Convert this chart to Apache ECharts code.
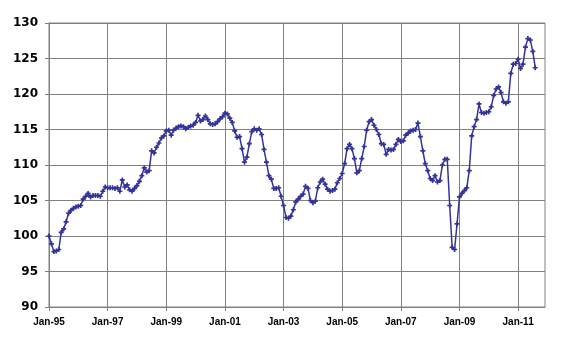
<!DOCTYPE html>
<html>
<head>
<meta charset="utf-8">
<script src="https://cdn.jsdelivr.net/npm/echarts@6/dist/echarts.min.js"></script>
<style>
html,body{margin:0;padding:0;background:#fff;}
#c{width:576px;height:343px;}
</style>
</head>
<body>
<div id="c"></div>
<script>
// Month names and year span of the category axis (Jan-95 .. Dec-11)
var monthNames = ['Jan','Feb','Mar','Apr','May','Jun','Jul','Aug','Sep','Oct','Nov','Dec'];
var startYear = 1995, endYear = 2011;

// Monthly index values, Jan-95 .. Aug-11
var values1995 = [100.0, 98.9, 97.8, 97.9, 98.1, 100.5, 101.0, 102.0, 103.2, 103.6, 103.9, 104.1];
var values1996 = [104.2, 104.3, 105.2, 105.6, 106.0, 105.5, 105.7, 105.7, 105.7, 105.6, 106.3, 106.9];
var values1997 = [106.8, 106.8, 106.8, 106.7, 106.8, 106.3, 107.9, 106.9, 107.2, 106.5, 106.3, 106.7];
var values1998 = [107.1, 107.7, 108.5, 109.6, 109.0, 109.2, 112.0, 111.7, 112.5, 113.1, 113.8, 114.1];
var values1999 = [114.8, 114.9, 114.2, 114.9, 115.2, 115.4, 115.5, 115.4, 115.1, 115.3, 115.5, 115.6];
var values2000 = [116.0, 117.0, 116.2, 116.4, 116.9, 116.4, 115.8, 115.7, 115.8, 116.1, 116.5, 116.8];
var values2001 = [117.3, 117.2, 116.6, 116.0, 114.8, 113.9, 114.0, 112.3, 110.4, 111.1, 113.0, 114.7];
var values2002 = [115.1, 114.9, 115.1, 114.3, 112.2, 110.4, 108.5, 108.0, 106.7, 106.7, 106.8, 105.6];
var values2003 = [104.3, 102.6, 102.5, 102.8, 103.7, 104.8, 105.2, 105.6, 105.9, 107.0, 106.7, 105.0];
var values2004 = [104.7, 104.9, 106.8, 107.6, 108.0, 107.3, 106.6, 106.3, 106.4, 106.6, 107.5, 108.1];
var values2005 = [108.8, 110.2, 112.3, 112.9, 112.3, 110.9, 108.9, 109.2, 110.9, 112.6, 114.9, 116.1];
var values2006 = [116.4, 115.6, 115.0, 114.3, 113.0, 112.9, 111.5, 112.2, 112.1, 112.2, 112.9, 113.6];
var values2007 = [113.3, 113.4, 114.2, 114.5, 114.8, 114.9, 115.0, 115.9, 114.0, 112.0, 110.2, 109.2];
var values2008 = [108.1, 107.8, 108.5, 107.6, 107.8, 110.0, 110.8, 110.8, 104.3, 98.4, 98.1, 101.7];
var values2009 = [105.5, 106.0, 106.4, 106.8, 109.2, 114.1, 115.4, 116.4, 118.6, 117.4, 117.3, 117.4];
var values2010 = [117.5, 118.2, 119.8, 120.7, 121.0, 120.2, 118.9, 118.7, 118.9, 122.9, 124.2, 124.3];
var values2011 = [124.9, 123.6, 124.2, 126.6, 127.8, 127.6, 126.0, 123.7];

var yTicks = {min: 90, max: 130, interval: 5};

var categories = [];
for (var y = startYear; y <= endYear; y++) {
  for (var m = 0; m < 12; m++) {
    categories.push(monthNames[m] + '-' + String(y).slice(2));
  }
}
var seriesValues = [].concat(values1995, values1996, values1997, values1998, values1999,
  values2000, values2001, values2002, values2003, values2004, values2005, values2006,
  values2007, values2008, values2009, values2010, values2011);

var every2y = function (idx) { return idx % 24 === 0; };

var chart = echarts.init(document.getElementById('c'), null, {renderer: 'canvas'});
chart.setOption({
  animation: false,
  backgroundColor: '#ffffff',
  grid: {left: 49, right: 31, top: 23, bottom: 36, show: true, borderColor: '#808080', borderWidth: 1},
  xAxis: {
    type: 'category',
    data: categories,
    boundaryGap: false,
    axisLine: {lineStyle: {color: '#808080', width: 1}},
    axisTick: {show: true, interval: every2y, length: 4, lineStyle: {color: '#808080'}},
    axisLabel: {interval: every2y, color: '#000', fontFamily: 'Liberation Sans, Arial', fontWeight: 'bold', fontSize: 10, margin: 10},
    splitLine: {show: true, interval: every2y, lineStyle: {color: '#808080', width: 1}}
  },
  yAxis: {
    type: 'value',
    min: yTicks.min, max: yTicks.max, interval: yTicks.interval,
    axisLine: {show: true, lineStyle: {color: '#808080', width: 1}},
    axisTick: {show: true, length: 4, lineStyle: {color: '#808080'}},
    axisLabel: {color: '#000', fontFamily: 'DejaVu Sans', fontWeight: 'bold', fontSize: 12, margin: 11},
    splitLine: {show: true, lineStyle: {color: '#808080', width: 1}}
  },
  series: [{
    type: 'line',
    data: seriesValues,
    symbol: 'path://M1,0H2V1H3V2H2V3H1V2H0V1H1Z',
    symbolSize: 5,
    showAllSymbol: true,
    lineStyle: {color: '#333399', width: 1.5},
    itemStyle: {color: '#333399'}
  }]
});
</script>
</body>
</html>
